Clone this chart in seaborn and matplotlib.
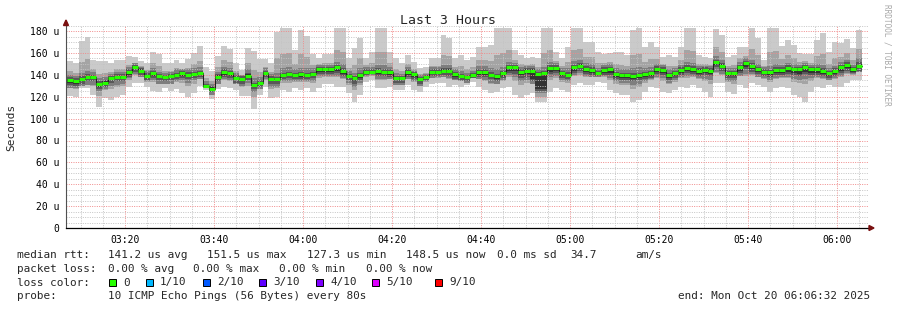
import numpy as np
import pandas as pd
import matplotlib
matplotlib.use("Agg")
import matplotlib.pyplot as plt
from matplotlib.patches import Polygon, Rectangle
from matplotlib.ticker import MultipleLocator, FixedLocator
import seaborn as sns

# ---------------- data (microseconds, one value per 80 s step) ----------------
median_us = [135.4, 134.4, 136.0, 138.0, 138.0, 131.6, 132.8, 136.8, 138.3, 138.3,
             142.3, 147.2, 143.8, 139.2, 141.7, 138.7, 137.7, 138.7, 139.9, 141.7,
             140.1, 141.0, 141.7, 129.5, 127.3, 138.5, 142.5, 141.5, 137.4, 136.5,
             139.4, 130.8, 132.5, 142.0, 136.2, 135.8, 139.6, 140.7, 139.9, 140.5,
             139.9, 141.0, 145.3, 145.0, 145.3, 146.8, 143.5, 139.2, 136.8, 139.6,
             142.9, 142.9, 143.5, 142.9, 142.3, 137.1, 137.1, 142.6, 140.5, 136.2,
             137.7, 142.9, 142.9, 143.8, 143.8, 140.5, 139.2, 138.0, 139.9, 142.9,
             142.9, 140.2, 138.9, 141.7, 146.8, 146.8, 142.9, 143.8, 143.8, 140.5,
             141.4, 146.5, 146.5, 141.7, 140.2, 146.8, 148.4, 145.3, 144.7, 141.7,
             144.7, 145.0, 140.8, 139.9, 139.9, 139.2, 139.9, 140.8, 141.7, 145.6,
             144.4, 139.9, 141.4, 144.4, 146.3, 145.3, 143.8, 144.4, 143.8, 151.5,
             148.4, 141.7, 141.4, 146.8, 150.5, 148.1, 145.0, 142.9, 142.9, 144.7,
             144.7, 146.3, 145.0, 145.0, 147.2, 145.0, 145.0, 143.8, 141.4, 143.5,
             146.8, 149.0, 145.0, 148.5]

max_us = [152.6, 150.5, 170.9, 174.6, 153.5, 152.6, 152.6, 150.5, 153.5, 153.5,
          157.2, 156.0, 152.6, 150.8, 161.2, 159.0, 151.1, 150.5, 153.5, 150.5,
          154.5, 160.3, 166.4, 147.5, 143.8, 157.2, 166.4, 163.6, 151.1, 144.4,
          164.2, 162.1, 154.5, 154.5, 150.5, 179.2, 182.8, 182.8, 162.7, 181.0,
          175.8, 158.7, 155.1, 158.7, 158.7, 182.5, 182.5, 155.1, 164.2, 174.0,
          155.7, 161.2, 183.1, 183.1, 161.2, 155.1, 150.5, 158.1, 152.1, 145.9,
          147.5, 155.1, 155.1, 176.4, 173.4, 155.1, 158.1, 153.6, 156.6, 165.7,
          165.7, 167.3, 182.5, 182.5, 182.5, 162.7, 158.1, 155.1, 156.6, 155.7,
          182.5, 182.5, 161.2, 155.1, 165.7, 182.5, 182.5, 170.3, 170.3, 161.2,
          158.7, 159.7, 161.2, 160.6, 158.1, 181.0, 182.5, 165.7, 170.3, 165.7,
          156.6, 158.1, 156.6, 165.7, 182.5, 182.5, 158.1, 156.6, 155.1, 181.9,
          176.4, 156.6, 158.1, 165.7, 165.7, 182.5, 173.4, 153.6, 182.5, 182.5,
          166.7, 171.9, 167.3, 159.7, 158.7, 158.7, 171.9, 178.0, 161.2, 170.3,
          168.8, 172.8, 164.2, 181.0]

min_us = [121.0, 120.0, 128.3, 128.3, 121.6, 110.3, 118.9, 117.0, 120.0, 121.6,
          128.6, 132.2, 132.2, 128.6, 125.5, 124.0, 127.7, 125.5, 126.8, 123.1,
          120.0, 123.1, 129.8, 126.1, 117.6, 126.8, 128.6, 127.7, 126.1, 120.7,
          120.7, 108.5, 121.6, 128.6, 118.5, 120.0, 126.1, 124.3, 127.7, 126.1,
          127.7, 124.6, 128.3, 131.3, 131.3, 129.2, 129.2, 123.1, 115.5, 121.6,
          133.8, 135.3, 127.7, 127.7, 129.2, 126.1, 126.1, 130.7, 126.1, 124.6,
          129.2, 131.3, 132.2, 132.2, 129.2, 130.7, 129.2, 130.7, 133.8, 129.2,
          126.1, 123.1, 124.6, 127.7, 129.2, 121.6, 119.1, 121.6, 123.1, 115.5,
          114.9, 124.6, 127.7, 126.1, 124.6, 130.7, 132.2, 130.7, 130.7, 133.8,
          132.2, 126.1, 123.1, 121.6, 121.6, 114.9, 117.0, 124.6, 129.2, 127.7,
          124.6, 123.1, 126.1, 129.2, 127.7, 130.7, 127.7, 124.6, 120.1, 132.2,
          132.2, 124.6, 122.2, 130.7, 127.7, 132.2, 130.7, 129.2, 124.6, 127.7,
          129.2, 127.7, 121.6, 120.1, 115.5, 124.6, 129.2, 127.7, 130.7, 129.2,
          129.2, 132.2, 135.3, 135.3]

p2_hi = [143.1, 141.6, 151.7, 154.5, 145.0, 141.0, 141.7, 143.0, 145.1, 145.1,
         149.0, 151.2, 147.8, 144.4, 150.5, 147.8, 143.7, 144.0, 146.0, 145.7,
         146.6, 149.7, 152.8, 137.6, 134.8, 146.9, 153.3, 151.4, 143.6, 140.0,
         150.6, 144.9, 142.4, 147.6, 142.6, 155.3, 159.0, 159.6, 150.2, 158.7,
         156.0, 149.0, 149.7, 151.2, 151.3, 162.9, 161.0, 146.4, 149.1, 155.1,
         148.7, 151.1, 161.3, 161.0, 150.8, 145.2, 143.1, 149.6, 145.7, 140.6,
         142.1, 148.4, 148.4, 158.5, 157.1, 147.1, 147.7, 145.0, 147.4, 153.2,
         153.2, 152.4, 158.5, 160.0, 162.9, 154.0, 149.7, 148.9, 149.6, 147.3,
         159.9, 162.7, 153.1, 147.7, 151.7, 162.9, 163.7, 156.6, 156.2, 150.5,
         151.0, 151.6, 150.0, 149.2, 148.1, 158.0, 159.1, 152.0, 154.6, 154.6,
         149.9, 148.1, 148.2, 154.0, 162.6, 162.0, 150.2, 149.9, 148.9, 165.5,
         161.0, 148.4, 148.9, 155.3, 157.3, 163.6, 157.8, 147.7, 160.7, 161.7,
         154.6, 157.8, 155.0, 151.6, 152.4, 151.2, 157.1, 159.2, 150.3, 155.6,
         156.7, 159.7, 153.6, 163.4]

p2_lo = [128.2, 127.2, 132.2, 133.2, 129.8, 121.0, 125.9, 126.9, 129.2, 130.0,
         135.5, 139.7, 138.0, 133.9, 133.6, 131.4, 132.7, 132.1, 133.4, 132.4,
         130.0, 132.0, 135.8, 127.8, 121.5, 132.6, 135.5, 134.6, 131.8, 128.6,
         130.0, 119.6, 127.0, 135.3, 127.4, 127.9, 132.8, 132.5, 133.8, 133.3,
         133.8, 132.8, 136.8, 138.2, 138.3, 138.0, 136.4, 131.2, 126.2, 130.6,
         138.4, 139.1, 135.6, 135.3, 135.8, 131.6, 131.6, 136.7, 133.3, 130.4,
         133.5, 137.1, 137.6, 138.0, 136.5, 135.6, 134.2, 134.4, 136.9, 136.1,
         134.5, 131.7, 131.8, 134.7, 138.0, 134.2, 131.0, 132.7, 133.5, 120.0,
         120.0, 135.6, 137.1, 133.9, 132.4, 138.8, 140.3, 138.0, 137.7, 137.8,
         138.5, 135.6, 132.0, 130.8, 130.8, 127.0, 128.5, 132.7, 135.5, 136.7,
         134.5, 131.5, 133.8, 136.8, 137.0, 138.0, 135.8, 134.5, 132.0, 142.1,
         140.3, 133.2, 131.8, 138.8, 139.1, 140.2, 137.9, 136.1, 133.8, 136.2,
         137.0, 137.0, 133.3, 132.6, 131.4, 134.8, 137.1, 135.8, 136.1, 136.4,
         138.0, 140.6, 140.2, 142.2]

p3_hi = [140, 139, 142, 144, 143, 137, 138, 141, 143, 143,
         147, 151, 147, 144, 146, 143, 142, 143, 145, 145,
         145, 146, 147, 134, 132, 143, 147, 146, 142, 140,
         145, 137, 138, 146, 141, 142, 146, 147, 145, 146,
         146, 146, 149, 149, 149, 152, 150, 144, 142, 146,
         147, 147, 149, 149, 147, 142, 141, 147, 144, 140,
         141, 147, 147, 149, 149, 145, 144, 142, 144, 148,
         148, 146, 145, 147, 152, 151, 147, 148, 148, 145,
         147, 152, 151, 146, 146, 153, 154, 151, 150, 146,
         149, 150, 146, 145, 145, 146, 147, 146, 147, 150,
         149, 145, 146, 149, 152, 151, 148, 148, 148, 157,
         154, 146, 146, 152, 155, 154, 150, 147, 148, 150,
         149, 151, 150, 149, 151, 149, 150, 149, 146, 148,
         152, 154, 149, 155]

p3_lo = [128, 128, 130, 131, 131, 125, 127, 130, 131, 132,
         137, 141, 138, 134, 135, 132, 132, 132, 134, 135,
         133, 135, 136, 128, 122, 132, 136, 135, 132, 130,
         133, 124, 127, 136, 129, 129, 134, 134, 134, 134,
         134, 134, 139, 139, 139, 139, 137, 133, 129, 133,
         139, 139.5, 136, 136, 136, 131, 131, 136, 134, 130,
         134, 137, 138, 138, 137, 135, 134, 133, 137, 136,
         135, 133, 132, 135, 140, 138, 134, 135, 132, 123,
         123, 138, 139, 135, 134, 140, 142, 139, 138, 138.5,
         139, 137, 134, 133, 133, 131, 132, 134, 136, 138,
         137, 133, 135, 138, 139, 139, 137, 136, 135, 143,
         141, 134, 134, 139, 141, 141, 138, 137, 135, 137,
         138, 138, 136, 135, 136, 137, 138, 137, 135, 137,
         139, 142, 141, 143]

p4_hi = [138, 137, 139, 141, 140, 134, 135, 139, 141, 141,
         145, 149, 146, 142, 144, 141, 140, 141, 142, 144,
         143, 143, 144, 132, 130, 141, 145, 144, 140, 139,
         142, 133, 135, 144, 139, 138, 142, 143, 142, 143,
         142, 143, 147, 147, 147, 149, 146, 141, 139, 142,
         145, 145, 146, 145, 145, 139, 139, 145, 143, 138,
         140, 145, 145, 146, 146, 143, 141, 140, 142, 145,
         145, 143, 141, 144, 149, 149, 145, 146, 146, 143,
         144, 149, 149, 144, 143, 149, 151, 148, 147, 144,
         147, 147, 143, 142, 142, 142, 142, 143, 144, 148,
         147, 142, 144, 147, 149, 148, 146, 147, 146, 154,
         151, 144, 144, 149, 153, 151, 147, 145, 145, 147,
         147, 149, 147, 147, 149, 147, 147, 146, 144, 146,
         149, 152, 147, 152]

p4_lo = [131, 130, 132, 134, 134, 127, 129, 133, 134, 134,
         138, 143, 140, 135, 137, 135, 134, 135, 136, 137,
         136, 137, 138, 128.5, 124, 134, 138, 137, 133, 132,
         135, 127, 129, 138, 132, 132, 136, 137, 136, 136,
         136, 137, 141, 141, 141, 142, 139, 135, 132, 135,
         140, 140.5, 139, 139, 138, 133, 133, 138, 136, 132,
         135, 139, 139, 140, 139, 136, 135, 134, 137.5, 138,
         138, 136, 134, 137, 142, 141, 137, 138, 134, 125,
         125, 141, 142, 137, 136, 142, 144, 141, 140, 139,
         140, 140, 136, 135, 135, 134, 135, 136, 137, 141,
         140, 135, 137, 140, 142, 141, 139, 140, 139, 147,
         144, 137, 137, 142, 145, 143, 141, 139, 138, 140,
         140, 141, 140, 139, 141, 140, 140, 139, 137, 139,
         142, 144, 142, 144]

p5_hi = [136, 135, 137, 139, 139, 132.5, 134, 138, 139, 139,
         143, 148, 145, 140, 142.5, 139.5, 138.5, 139.5, 141, 142.5,
         141, 142, 142.5, 130.5, 128.5, 139.5, 143.5, 142.5, 138.5, 137.5,
         140.5, 132, 133.5, 143, 137, 137, 140.5, 141.5, 141, 141.5,
         141, 142, 146, 146, 146, 148, 144.5, 140, 138, 140.5,
         144, 144, 144.5, 144, 143.5, 138, 138, 143.5, 141.5, 137,
         138.5, 144, 144, 145, 145, 141.5, 140, 139, 141, 144,
         144, 141, 140, 142.5, 148, 148, 144, 145, 145, 141.5,
         142.5, 147.5, 147.5, 142.5, 141, 148, 149.5, 146.5, 145.5, 142.5,
         145.5, 146, 142, 141, 141, 140, 141, 142, 142.5, 146.5,
         145.5, 141, 142.5, 145.5, 147.5, 146.5, 145, 145.5, 145, 153,
         149.5, 142.5, 142.5, 148, 151.5, 149, 146, 144, 144, 145.5,
         145.5, 147.5, 146, 146, 148, 146, 146, 145, 142.5, 144.5,
         148, 150, 146, 150]

p5_lo = [133, 132, 134, 136, 136, 129, 131, 135, 136, 136,
         140, 145, 142, 137, 139, 137, 136, 137, 138, 139,
         138, 139, 140, 129, 125.5, 136, 140, 139, 135, 134,
         137, 129, 131, 140, 134, 134, 138, 139, 138, 138,
         138, 139, 143, 143, 143, 144, 141, 137, 134, 137,
         141, 141, 141, 141, 140, 135, 135, 140, 138, 134,
         136, 141, 141, 142, 142, 138, 137, 136, 138, 140,
         140, 138, 136, 139, 144, 144, 140, 141, 136, 127,
         127, 143, 144, 139, 138, 144, 146, 143, 142, 140,
         142, 142, 138, 137, 137, 136, 137, 138, 139, 143,
         142, 137, 139, 142, 144, 143, 141, 142, 141, 149,
         146, 139, 139, 144, 147, 145, 143, 141, 140, 142,
         142, 143, 142, 141, 143, 142, 142, 141, 139, 141,
         144, 146, 143, 146]

y_ticks = [0, 20, 40, 60, 80, 100, 120, 140, 160, 180]
x_tick_labels = ["03:20", "03:40", "04:00", "04:20", "04:40",
                 "05:00", "05:20", "05:40", "06:00"]

title = "Last 3 Hours"
stat_line = [("median rtt:", 16.7), ("141.2 us avg", 107.7), ("151.5 us max", 207.3),
             ("127.3 us min", 306.7), ("148.5 us now", 406.0), ("0.0 ms sd", 496.7),
             ("34.7", 570.0), ("am/s", 635.0)]
loss_line = [("packet loss:", 16.7), ("0.00 % avg", 107.7), ("0.00 % max", 193.3),
             ("0.00 % min", 279.3), ("0.00 % now", 365.7)]
loss_colors = ["#26ff00", "#00b8ff", "#0059ff", "#5e00ff", "#7e00ff", "#dd00ff", "#ff0000"]
loss_labels = ["0", "1/10", "2/10", "3/10", "4/10", "5/10", "9/10"]
loss_box_x = [109.0, 145.7, 202.7, 259.3, 316.0, 372.3, 435.0]
probe_text = "10 ICMP Echo Pings (56 Bytes) every 80s"
end_text = "end: Mon Oct 20 06:06:32 2025"

# ---------------- figure ----------------
W, H = 897, 310
sns.set_style("white")
plt.rcParams['font.family'] = ['DejaVu Sans Mono', 'DejaVu Sans']

fig = plt.figure(figsize=(W / 100, H / 100), dpi=100)
fig.patch.set_facecolor("white")
ax = fig.add_axes([66 / W, (H - 228) / H, (869 - 66) / W, (228 - 25) / H])

STEP = 80
T0 = 414.0          # seconds after 03:00 of first step start
n = len(median_us)
t_edges = T0 + STEP * np.arange(n + 1)

def ext(a):
    a = np.asarray(a, dtype=float)
    return np.append(a, a[-1])

bands = [(min_us, max_us, "#cacaca"), (p2_lo, p2_hi, "#a4a4a4"),
         (p3_lo, p3_hi, "#7e7e7e"), (p4_lo, p4_hi, "#585858"),
         (p5_lo, p5_hi, "#323232")]
for lo, hi, col in bands:
    ax.fill_between(t_edges, ext(lo), ext(hi), step="post", color=col,
                    linewidth=0, zorder=1)

df = pd.DataFrame({"t": t_edges, "median": ext(median_us)})
sns.lineplot(data=df, x="t", y="median", drawstyle="steps-post",
             color="#202020", linewidth=0.75, ax=ax, zorder=4)
ax.hlines(median_us, t_edges[:-1], t_edges[1:], colors="#26ff00",
          linewidth=2.2, zorder=5)

ax.set_xlim(404.5, 11231)
ax.set_ylim(0, 185.6)

def to_sec(s):
    h, m = s.split(":")
    return (int(h) - 3) * 3600 + int(m) * 60

ax.xaxis.set_major_locator(FixedLocator([to_sec(s) for s in x_tick_labels]))
ax.set_xticklabels(x_tick_labels)
ax.xaxis.set_minor_locator(MultipleLocator(300))
ax.yaxis.set_major_locator(FixedLocator(y_ticks))
ax.set_yticklabels(["0" if v == 0 else f"{v} u" for v in y_ticks])
ax.yaxis.set_minor_locator(MultipleLocator(5))

ax.set_axisbelow(False)
ax.grid(which="minor", color="#c4c4c4", linestyle=(0, (1, 1.4)), linewidth=0.7)
ax.grid(which="major", color="#f08a8a", linestyle=(0, (1, 1.4)), linewidth=0.7)

ax.tick_params(axis="both", which="major", labelsize=7, length=3, width=0.7,
               direction="out", colors="#000000")
ax.tick_params(axis="x", which="major", color="#f08a8a", pad=2)
ax.tick_params(axis="y", which="major", color="#f08a8a", pad=2)
ax.tick_params(axis="x", which="minor", length=2, width=0.7, color="#c4c4c4")
ax.tick_params(axis="y", which="minor", length=0)
ax.set_xlabel("")
ax.set_ylabel("")

for s in ["top", "right"]:
    ax.spines[s].set_visible(False)
ax.spines["left"].set_color("#505050")
ax.spines["left"].set_linewidth(0.8)
ax.spines["bottom"].set_color("#000000")
ax.spines["bottom"].set_linewidth(0.9)
ax.spines["bottom"].set_zorder(6)
ax.spines["left"].set_zorder(6)

def fx(x):
    return x / W

def fy(y):
    return 1 - y / H

# axis arrows
fig.add_artist(Polygon([(fx(66), fy(20)), (fx(63.5), fy(25.5)), (fx(68.5), fy(25.5))],
                       closed=True, color="#7a1010", transform=fig.transFigure))
fig.add_artist(Polygon([(fx(874), fy(228)), (fx(869), fy(225.5)), (fx(869), fy(230.5))],
                       closed=True, color="#7a1010", transform=fig.transFigure))

# texts
fig.text(fx(448), fy(20), title, ha="center", va="center", fontsize=9.5)
fig.text(fx(11), fy(127), "Seconds", rotation=90, ha="center", va="center", fontsize=8)
fig.text(fx(887), fy(4), "RRDTOOL / TOBI OETIKER", rotation=270, ha="center",
         va="top", fontsize=5.6, color="#a8a8a8")

ROWS = [255, 268.5, 282.5, 296]
for txt, x in stat_line:
    fig.text(fx(x), fy(ROWS[0]), txt, ha="left", va="center", fontsize=7.9)
for txt, x in loss_line:
    fig.text(fx(x), fy(ROWS[1]), txt, ha="left", va="center", fontsize=7.9)
fig.text(fx(16.7), fy(ROWS[2]), "loss color:", ha="left", va="center", fontsize=7.9)
for col, lab, bx in zip(loss_colors, loss_labels, loss_box_x):
    fig.add_artist(Rectangle((fx(bx), fy(ROWS[2] + 3.5)), 7 / W, 7 / H,
                             facecolor=col, edgecolor="black", linewidth=0.7,
                             transform=fig.transFigure))
    fig.text(fx(bx + 14.3), fy(ROWS[2]), lab, ha="left", va="center", fontsize=7.9)
fig.text(fx(16.7), fy(ROWS[3]), "probe:", ha="left", va="center", fontsize=7.9)
fig.text(fx(107.7), fy(ROWS[3]), probe_text, ha="left", va="center", fontsize=7.9)
fig.text(fx(677.7), fy(ROWS[3]), end_text, ha="left", va="center", fontsize=7.9)

fig.savefig("out.png", dpi=100, facecolor="white")
